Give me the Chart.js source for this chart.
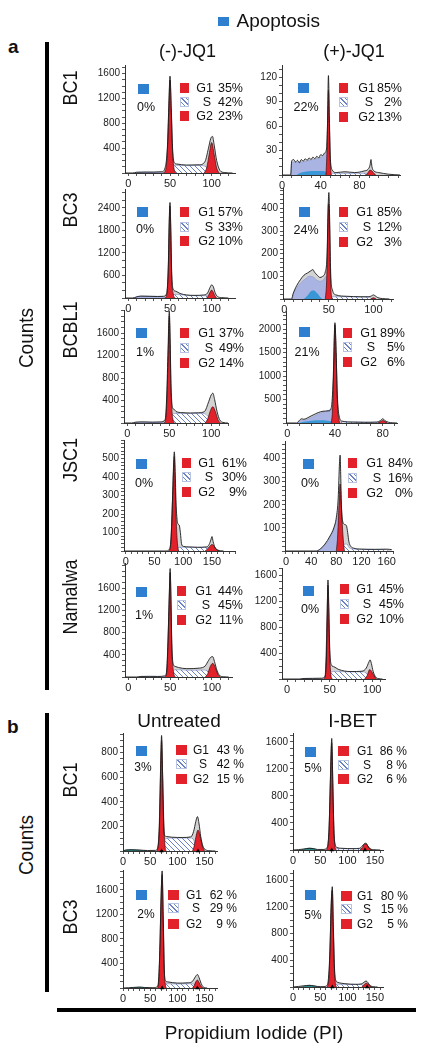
<!DOCTYPE html>
<html><head><meta charset="utf-8"><title>Cell cycle histograms</title>
<script src="https://cdn.jsdelivr.net/npm/chart.js@4.4.1/dist/chart.umd.min.js"></script>
<style>
html,body{margin:0;padding:0;background:#fff}
#root{position:relative;width:444px;height:1050px;overflow:hidden;background:#fff}
#root canvas{position:absolute}
</style></head><body><div id="root"></div>
<script>
// ---------------- DATA ----------------
// percentages per panel, order: a1n a1p a2n a2p a3n a3p a4n a4p a5n a5p b1u b1i b2u b2i
const pctApop = [0,22,0,24,1,21,0,0,1,0,3,5,2,5];
const pctG1   = [35,85,57,85,37,89,61,84,44,45,43,86,62,80];
const pctS    = [42,2,33,12,49,5,30,16,45,45,42,8,29,15];
const pctG2   = [23,13,10,3,14,6,9,0,11,10,15,6,9,5];

const rowsA = ['BC1','BC3','BCBL1','JSC1','Namalwa'];
const rowsB = ['BC1','BC3'];
const colsA = ['(-)-JQ1','(+)-JQ1'];
const colsB = ['Untreated','I-BET'];

// tick labels
const xTicks = [[0,50,100],[0,40,80],[0,50,100],[0,50,100],[0,50,100],[0,40,80],[0,50,100,150],[0,40,80,120,160],[0,50,100],[0,50,100],[0,50,100,150],[0,50,100,150],[0,50,100,150],[0,50,100,150]];
const yTicks = [[400,800,1200,1600],[30,60,90,120],[600,1200,1800,2400],[100,200,300,400],[400,800,1200,1600],[500,1000,1500,2000],[100,200,300,400,500],[100,200,300,400],[400,800,1200,1600],[400,800,1200,1600],[200,400,600,800],[400,800,1200,1600],[400,800,1200,1600],[400,800,1200,1600]];

// BC1 (-)-JQ1
const a1n_total = [[-4,0],[5,0],[10,12],[20,15],[30,14],[40,20],[44,80],[47,450],[48.5,1050],[50,1560],[51.5,1050],[53,420],[55,170],[58,145],[70,128],[85,132],[92,185],[96,390],[99,560],[101,590],[103,450],[106,200],[110,40],[115,8],[125,0]];
const a1n_g1 = [[42,0],[45,60],[47,400],[48.5,1000],[50,1500],[51.5,1000],[53,350],[55,60],[57,0]];
const a1n_g2 = [[91,0],[94,80],[97,300],[100,490],[103,300],[106,80],[109,0]];
const a1n_s = [[50,0],[53,70],[56,125],[70,118],[85,122],[92,110],[96,60],[99,0]];
const a1n_apo = [[8,0],[10,11],[25,14],[40,14],[45,0]];
// BC1 (+)-JQ1
const a1p_total = [[0,0],[9,0],[10,17],[12,19],[14,16],[16,18],[18,15],[20,19],[22,17],[24,20],[26,18],[28,21],[30,19],[32,22],[34,20],[36,23],[38,21],[40,25],[42,24],[44,27],[46,32],[47,60],[48,122],[49,70],[50,20],[52,6],[56,3],[65,4],[75,3],[85,5],[89,7],[91,12],[92,19],[93,10],[95,5],[100,3],[110,1],[122,0]];
const a1p_g1 = [[45.5,0],[46.5,30],[47.5,85],[48,104],[49,60],[50,15],[51,0]];
const a1p_g2 = [[87,0],[89,3],[91,6],[93,5],[95,2],[97,0]];
const a1p_s = [[50,0],[52,2],[88,2],[90,0]];
const a1p_apo = [[9,0],[10,15],[14,16],[20,16],[28,18],[36,20],[42,23],[46,28],[48,30],[50,0]];
const a1p_apo2 = [[15,0],[20,3],[30,5],[40,5],[45,4],[48,0]];
// BC3 (-)-JQ1
const a2n_total = [[-4,0],[5,0],[10,30],[15,50],[25,45],[35,40],[42,45],[46,120],[48,900],[49,2000],[50,2540],[51,1800],[52,700],[54,230],[57,180],[62,120],[70,80],[80,70],[90,80],[95,130],[98,280],[100,350],[102,300],[104,150],[107,40],[112,10],[120,0]];
const a2n_g1 = [[44,0],[46,80],[48,800],[49,1900],[50,2450],[51,1700],[52,600],[54,100],[56,0]];
const a2n_g2 = [[94,0],[96,60],[98,150],[100,210],[102,150],[104,50],[106,0]];
const a2n_s = [[50,0],[53,80],[58,95],[70,70],[85,60],[95,60],[98,0]];
const a2n_apo = [[8,0],[10,40],[20,50],[30,45],[40,40],[45,0]];
// BC3 (+)-JQ1
const a2p_total = [[-1.5,0],[8,0],[10,25],[14,60],[18,85],[22,105],[26,115],[30,125],[32,130],[34,118],[37,105],[40,95],[43,100],[46,120],[48,200],[49,380],[50,470],[51,330],[52,120],[54,40],[58,18],[70,12],[85,10],[95,10],[98,14],[100,18],[102,14],[105,6],[110,2],[118,0]];
const a2p_g1 = [[46,0],[47.5,80],[48.5,250],[49.5,420],[50.5,380],[51.5,150],[52.5,30],[54,0]];
const a2p_g2 = [[97,0],[100,5],[103,0]];
const a2p_s = [[50,0],[52,10],[95,8],[98,0]];
const a2p_apo = [[9,0],[10,20],[14,50],[18,70],[24,90],[28,100],[32,98],[36,85],[40,78],[44,85],[47,100],[49,0]];
const a2p_apo2 = [[22,0],[26,15],[30,35],[33,38],[37,25],[41,5],[43,0]];
// BCBL1 (-)-JQ1
const a3n_total = [[-4,0],[5,0],[10,15],[20,20],[30,15],[40,20],[45,60],[47,500],[48.5,1300],[50,1990],[51,1500],[52,700],[54,270],[56,240],[58,205],[65,185],[75,178],[85,182],[92,205],[97,380],[100,500],[102,530],[104,420],[107,200],[110,60],[114,10],[120,0]];
const a3n_g1 = [[44,0],[46,100],[47.5,600],[49,1400],[50,1900],[51,1400],[52,600],[54,100],[56,0]];
const a3n_g2 = [[93,0],[96,80],[99,220],[102,290],[105,200],[108,60],[111,0]];
const a3n_s = [[50,0],[54,160],[58,170],[75,168],[90,172],[96,120],[100,0]];
const a3n_apo = [[8,0],[10,12],[30,12],[44,10],[46,0]];
// BCBL1 (+)-JQ1
const a3p_total = [[-1,0],[8,0],[10,50],[12,90],[14,80],[17,110],[20,150],[24,200],[28,240],[32,255],[35,260],[37,330],[38.5,900],[40,2140],[41,1500],[42,600],[43.5,150],[46,40],[55,20],[65,15],[75,20],[78,50],[80,90],[82,50],[85,15],[88,5],[92,0]];
const a3p_g1 = [[37,0],[38,300],[39,1200],[40,2100],[41,1500],[42,500],[43.5,50],[44.5,0]];
const a3p_g2 = [[76,0],[78,25],[80,55],[82,30],[84,0]];
const a3p_s = [[42,0],[44,20],[75,15],[78,0]];
const a3p_apo = [[9,0],[10,40],[14,60],[18,90],[22,140],[26,190],[30,230],[34,260],[37,300],[39,0]];
const a3p_apo2 = [[10,0],[14,25],[20,50],[28,60],[34,50],[38,30],[40,0]];
// JSC1 (-)-JQ1
const a4n_total = [[-3,0],[70,0],[76,10],[79,80],[81,250],[83,450],[84.5,536],[86,430],[87.5,260],[89,180],[91,145],[93,140],[95,100],[97,40],[100,25],[110,22],[125,20],[140,22],[145,35],[148,60],[150,78],[152,50],[155,20],[160,5],[170,0]];
const a4n_g1 = [[76,0],[78,30],[80,150],[82,330],[84.5,510],[86,350],[88,150],[90,40],[92,0]];
const a4n_g2 = [[138,0],[142,10],[146,25],[150,35],[154,25],[158,8],[162,0]];
const a4n_s = [[88,0],[90,18],[100,20],[130,20],[145,18],[150,0]];
// JSC1 (+)-JQ1
const a4p_total = [[-1.5,0],[48,0],[55,10],[62,30],[70,65],[76,100],[80,145],[83,230],[85,380],[86,415],[87,330],[88,200],[90,130],[93,115],[96,110],[98,80],[100,40],[103,20],[108,12],[120,8],[140,7],[160,8],[168,6]];
const a4p_g1 = [[80,0],[82,60],[84,180],[86,290],[88,200],[90,90],[92,20],[93,0]];
const a4p_s = [[88,0],[90,25],[97,30],[100,15],[110,8],[160,6],[162,0]];
const a4p_apo = [[50,0],[58,15],[66,40],[72,70],[78,110],[82,160],[85,190],[87,0]];
// Namalwa (-)-JQ1
const a5n_total = [[-4,0],[10,0],[15,10],[25,12],[35,10],[44,20],[46,150],[47.5,700],[49,1500],[50,1950],[51,1400],[52,600],[54,220],[56,190],[60,170],[70,150],[85,160],[92,200],[96,300],[99,360],[101,365],[103,280],[106,120],[109,30],[114,5],[120,0]];
const a5n_g1 = [[44,0],[46,100],[47.5,650],[49,1450],[50,1880],[51,1350],[52,550],[54,100],[56,0]];
const a5n_g2 = [[92,0],[95,60],[98,190],[101,246],[104,170],[107,50],[110,0]];
const a5n_s = [[50,0],[53,100],[57,130],[75,120],[90,125],[96,90],[99,0]];
const a5n_apo = [[12,0],[15,8],[30,10],[40,8],[44,0]];
// Namalwa (+)-JQ1
const a5p_total = [[-6,0],[15,0],[20,8],[30,10],[40,12],[44,30],[46,250],[47,900],[48,1530],[49,1100],[50,500],[52,220],[55,190],[60,150],[75,115],[88,120],[93,170],[96,260],[97.5,295],[99,240],[101,120],[104,30],[108,5],[112,0]];
const a5p_g1 = [[43.5,0],[45,100],[46.5,700],[48,1450],[49,1000],[50,400],[51.5,60],[53,0]];
const a5p_g2 = [[91,0],[94,50],[97,145],[100,100],[103,30],[105,0]];
const a5p_s = [[49,0],[52,110],[56,115],[75,110],[90,110],[95,60],[98,0]];
const a5p_apo = [[15,0],[20,6],[35,8],[43,0]];
// b: BC1 Untreated
const b1u_total = [[0,0],[5,8],[15,10],[30,8],[45,4],[60,5],[64,30],[67,200],[69,600],[71,940],[73,600],[75,200],[77,125],[80,118],[90,112],[110,110],[125,115],[130,160],[134,240],[137,280],[140,220],[143,120],[147,40],[152,10],[160,2],[170,0]];
const b1u_g1 = [[63,0],[65,60],[67,250],[69,650],[71,900],[73,600],[75,250],[77,60],[79,0]];
const b1u_g2 = [[128,0],[131,40],[134,110],[138,170],[142,120],[146,40],[150,0]];
const b1u_s = [[74,0],[78,100],[90,105],[110,105],[125,105],[130,90],[134,0]];
const b1u_apo = [[0,0],[5,6],[15,10],[25,8],[35,4],[45,0]];
const b1u_marks = [[71,0],[138,0]];
// b: BC1 I-BET
const b1i_total = [[0,0],[10,5],[20,15],[30,25],[38,20],[45,8],[55,8],[62,30],[66,300],[68.5,1000],[71,1650],[73,1000],[75,300],[77,90],[80,40],[90,25],[110,20],[122,25],[127,60],[131,95],[134,100],[137,60],[141,20],[148,5],[160,0]];
const b1i_g1 = [[61,0],[64,60],[66.5,400],[68.5,1050],[71,1580],[73,950],[75,300],[77,50],[79,0]];
const b1i_g2 = [[123,0],[127,35],[131,85],[134,90],[138,50],[142,10],[145,0]];
const b1i_s = [[74,0],[78,20],[100,18],[125,20],[130,0]];
const b1i_apo = [[15,0],[22,15],[30,28],[38,20],[45,0]];
const b1i_marks = [[71,0],[132,0]];
// b: BC3 Untreated
const b2u_total = [[0,0],[10,5],[20,10],[30,15],[40,8],[55,5],[64,30],[67,400],[70,1400],[72,1910],[74,1200],[76,300],[78,120],[82,100],[100,80],[120,85],[128,110],[133,180],[137,220],[140,170],[144,70],[148,15],[155,0]];
const b2u_g1 = [[64,0],[66,150],[68,700],[70,1500],[72,1850],[74,1100],[76,300],[78,50],[80,0]];
const b2u_g2 = [[128,0],[131,40],[134,100],[137,130],[140,90],[144,25],[148,0]];
const b2u_s = [[74,0],[78,70],[100,65],[125,70],[132,50],[136,0]];
const b2u_apo = [[15,0],[25,8],[32,12],[40,6],[48,0]];
const b2u_marks = [[72,0],[137,0]];
// b: BC3 I-BET
const b2i_total = [[0,0],[10,8],[20,18],[30,25],[38,18],[45,8],[55,5],[63,30],[67,400],[70,1200],[72,1500],[74,900],[76,300],[78,110],[82,70],[95,50],[115,40],[125,45],[130,70],[134,90],[137,70],[141,25],[147,5],[155,0]];
const b2i_g1 = [[63,0],[66,150],[68,600],[70,1250],[72,1450],[74,850],[76,250],[78,40],[80,0]];
const b2i_g2 = [[126,0],[130,30],[134,60],[138,40],[142,10],[145,0]];
const b2i_s = [[74,0],[78,40],[100,38],[125,40],[130,0]];
const b2i_apo = [[15,0],[22,12],[30,25],[38,15],[46,0]];
const b2i_marks = [[72,0],[136,0]];

// ---------------- LAYOUT ----------------
const FONT = '"Liberation Sans", Arial, Helvetica, sans-serif';
const YW = 34, PT = 8, PR = 10, XH = 18;
const RED = '#e2212b', BLUE = '#2f7fd0';

const panels = [
 {part:'a', total:a1n_total, g1:a1n_g1, g2:a1n_g2, s:a1n_s, apo:a1n_apo,
  L:125,T:65,R:235,B:173, xr:[-4,128], ymax:1740, ym:100, bq:[138,84], ap:[146,107], rq:180, rows:[88,102,116], lr:213, pr:243},
 {part:'a', total:a1p_total, g1:a1p_g1, g2:a1p_g2, s:a1p_s, apo:a1p_apo, apo2:a1p_apo2,
  L:282,T:65,R:400,B:175, xr:[0,122], ymax:135, ym:10, bq:[298,83], ap:[306,107], rq:339, rows:[88,102,117], lr:375, pr:402},
 {part:'a', total:a2n_total, g1:a2n_g1, g2:a2n_g2, s:a2n_s, apo:a2n_apo,
  L:125,T:189,R:235,B:298, xr:[-4,128], ymax:2900, ym:200, bq:[137,207], ap:[145,229], rq:180, rows:[212,227,241], lr:215, pr:243},
 {part:'a', total:a2p_total, g1:a2p_g1, g2:a2p_g2, s:a2p_s, apo:a2p_apo, apo2:a2p_apo2,
  L:283,T:188,R:393,B:299, xr:[-1.5,122], ymax:490, ym:20, bq:[299,207], ap:[306,230], rq:339, rows:[212,227,242], lr:373, pr:402},
 {part:'a', total:a3n_total, g1:a3n_g1, g2:a3n_g2, s:a3n_s, apo:a3n_apo,
  L:124,T:310,R:228,B:423, xr:[-4,120], ymax:2010, ym:100, bq:[136,328], ap:[145,352], rq:180, rows:[333,348,363], lr:215, pr:244},
 {part:'a', total:a3p_total, g1:a3p_g1, g2:a3p_g2, s:a3p_s, apo:a3p_apo, apo2:a3p_apo2,
  L:286,T:311,R:397,B:423, xr:[-1,92], ymax:2390, ym:100, bq:[299,327], ap:[307,352], rq:343, rows:[333,347,362], lr:377, pr:405},
 {part:'a', total:a4n_total, g1:a4n_g1, g2:a4n_g2, s:a4n_s,
  L:124,T:440,R:235,B:551, xr:[-3,190], ymax:600, ym:20, bq:[136,459], ap:[144,483], rq:182, rows:[463,477,492], lr:215, pr:247},
 {part:'a', total:a4p_total, g1:a4p_g1, s:a4p_s, apo:a4p_apo,
  L:285,T:441,R:393,B:551, xr:[-1.5,170], ymax:476, ym:20, bq:[303,459], ap:[310,483], rq:348, rows:[463,478,493], lr:383, pr:413},
 {part:'a', total:a5n_total, g1:a5n_g1, g2:a5n_g2, s:a5n_s, apo:a5n_apo,
  L:125,T:563,R:232,B:677, xr:[-4,124], ymax:2050, ym:100, bq:[136,587], ap:[144,615], rq:177, rows:[591,605,620], lr:212, pr:243},
 {part:'a', total:a5p_total, g1:a5p_g1, g2:a5p_g2, s:a5p_s, apo:a5p_apo,
  L:282,T:568,R:385,B:679, xr:[-6,115], ymax:1715, ym:100, bq:[303,586], ap:[310,609], rq:340, rows:[589,604,619], lr:373, pr:404},
 {part:'b', total:b1u_total, g1:b1u_g1, g2:b1u_g2, s:b1u_s, apoT:b1u_apo, marks:b1u_marks,
  L:123,T:733,R:217,B:851, xr:[0,173], ymax:960, ym:50, bq:[136,746], ap:[143,767], rq:176, rows:[750,764,779], lr:209, pr:244},
 {part:'b', total:b1i_total, g1:b1i_g1, g2:b1i_g2, s:b1i_s, apoT:b1i_apo, marks:b1i_marks,
  L:293,T:733,R:383,B:850, xr:[0,165], ymax:1730, ym:100, bq:[305,747], ap:[313,768], rq:338, rows:[751,765,779], lr:373, pr:407},
 {part:'b', total:b2u_total, g1:b2u_g1, g2:b2u_g2, s:b2u_s, apoT:b2u_apo, marks:b2u_marks,
  L:123,T:870,R:217,B:988, xr:[0,173], ymax:1925, ym:100, bq:[136,890], ap:[146,914], rq:168, rows:[895,908,924], lr:202, pr:237},
 {part:'b', total:b2i_total, g1:b2i_g1, g2:b2i_g2, s:b2i_s, apoT:b2i_apo, marks:b2i_marks,
  L:293,T:870,R:383,B:987, xr:[0,165], ymax:1750, ym:100, bq:[305,890], ap:[313,915], rq:341, rows:[896,909,924], lr:373, pr:408}
];

const root = document.getElementById('root');

function el(css, text){
  const d = document.createElement('div');
  d.style.cssText = 'position:absolute;' + css;
  if (text != null) d.textContent = text;
  root.appendChild(d);
  return d;
}
function label(text, x, y, size, align, extra){
  extra = extra || {};
  const tx = align === 'c' ? '-50%' : (align === 'r' ? '-100%' : '0');
  return el(`left:${x}px;top:${y}px;font:${extra.bold ? 'bold ' : ''}${size}px ${FONT};line-height:1;white-space:nowrap;color:${extra.color||'#111'};transform:translate(${tx},-50%)${extra.tf ? ' ' + extra.tf : ''};`, text);
}
function baseY(baseline, size){ return baseline - 0.3465 * size; }

function hatchPattern(){
  const c = document.createElement('canvas');
  c.width = 5; c.height = 5;
  const x = c.getContext('2d');
  x.fillStyle = '#ffffff'; x.fillRect(0,0,5,5);
  x.strokeStyle = '#5b74bd'; x.lineWidth = 0.9;
  x.beginPath();
  x.moveTo(-1,-1); x.lineTo(6,6);
  x.moveTo(-1,4); x.lineTo(1,6);
  x.moveTo(4,-1); x.lineTo(6,1);
  x.stroke();
  return x.createPattern(c, 'repeat');
}
const HATCH = hatchPattern();
const HATCH_CSS = 'background:repeating-linear-gradient(45deg,#fff 0 2.2px,#6b82c4 2.2px 3.2px);border:1px solid #b8c4e2;box-sizing:border-box;';

function tickList(min, max, step){
  const out = [];
  for (let v = Math.ceil(min / step) * step; v <= max + 1e-9; v += step) out.push(Math.round(v * 1000) / 1000);
  return out;
}

function area(data, o){
  return Object.assign({data, pointRadius:0, borderWidth:0, fill:'origin', tension:0,
    cubicInterpolationMode:'monotone', spanGaps:true}, o);
}

panels.forEach((p, i) => {
  const W = YW + (p.R - p.L) + PR, H = PT + (p.B - p.T) + XH;
  const cv = document.createElement('canvas');
  cv.width = W; cv.height = H;
  cv.style.left = (p.L - YW) + 'px'; cv.style.top = (p.T - PT) + 'px';
  cv.style.width = W + 'px'; cv.style.height = H + 'px';
  root.appendChild(cv);

  const ds = [];
  ds.push(area(p.total, {backgroundColor:'#d3d3d3', order:9}));
  if (p.apo)  ds.push(area(p.apo,  {backgroundColor:'#aab4e3', borderColor:'#8d99cf', borderWidth:0.6, order:8}));
  if (p.apo2) ds.push(area(p.apo2, {backgroundColor:'#3a97d7', order:7}));
  if (p.apoT) ds.push(area(p.apoT, {backgroundColor:'#2b8c88', borderColor:'#1f6d6a', borderWidth:0.6, order:7}));
  if (p.s)    ds.push(area(p.s,    {backgroundColor:HATCH, borderColor:'#7d90c7', borderWidth:0.6, order:6}));
  if (p.g1)   ds.push(area(p.g1,   {backgroundColor:RED, borderColor:'#3b0d0d', borderWidth:0.7, order:4}));
  if (p.g2)   ds.push(area(p.g2,   {backgroundColor:RED, borderColor:'#3b0d0d', borderWidth:0.7, order:4}));
  ds.push(area(p.total, {fill:false, borderColor:'#1a1a1a', borderWidth:0.9, order:2}));
  if (p.marks) ds.push({data:p.marks, showLine:false, fill:false, pointStyle:'triangle', pointRadius:2.6,
    pointBackgroundColor:'#000', pointBorderColor:'#000', pointBorderWidth:0, clip:false, order:0});

  const xl = xTicks[i], yl = yTicks[i];
  const xAll = tickList(p.xr[0], p.xr[1], 10);
  const yAll = tickList(0, p.ymax, p.ym);
  new Chart(cv, {
    type:'line',
    data:{datasets:ds},
    options:{
      responsive:false, animation:false, devicePixelRatio:1, events:[],
      layout:{padding:{top:PT, right:PR, left:0, bottom:0}},
      plugins:{legend:{display:false}, tooltip:{enabled:false}},
      scales:{
        x:{type:'linear', min:p.xr[0], max:p.xr[1],
           afterFit:s => { s.height = XH; },
           afterBuildTicks:s => { s.ticks = xAll.map(v => ({value:v})); },
           ticks:{autoSkip:false, maxRotation:0, minRotation:0, padding:1, color:'#222',
                  font:{family:FONT, size:11}, callback:v => xl.includes(v) ? String(v) : ''},
           grid:{drawOnChartArea:false, drawTicks:true, tickLength:3, color:'#555'},
           border:{display:true, color:'#333', width:1}},
        y:{type:'linear', min:0, max:p.ymax,
           afterFit:s => { s.width = YW; },
           afterBuildTicks:s => { s.ticks = yAll.map(v => ({value:v})); },
           ticks:{autoSkip:false, padding:2, color:'#222',
                  font:{family:FONT, size:10}, callback:v => yl.includes(v) ? String(v) : ''},
           grid:{drawOnChartArea:false, drawTicks:true, tickLength:3, color:'#555'},
           border:{display:true, color:'#333', width:1}}
      }
    }
  });

  // in-panel annotation text
  const fs = p.part === 'a' ? 12.5 : 12;
  const sqW = p.part === 'a' ? 9 : 11;
  el(`left:${p.bq[0]}px;top:${p.bq[1]}px;width:11px;height:10px;background:${BLUE};`);
  label(pctApop[i] + '%', p.ap[0], p.ap[1], fs, 'c');
  const names = ['G1','S','G2'];
  const vals = [pctG1[i], pctS[i], pctG2[i]];
  names.forEach((n, k) => {
    const y = p.rows[k];
    if (n === 'S') el(`left:${p.rq}px;top:${y-5}px;width:${sqW}px;height:10px;${HATCH_CSS}`);
    else el(`left:${p.rq}px;top:${y-5}px;width:${sqW}px;height:10px;background:${RED};`);
    label(n, n === 'S' ? p.lr - 2 : p.lr, y, fs, 'r');
    label(p.part === 'a' ? vals[k] + '%' : vals[k] + ' %', p.pr, y, fs, 'r');
  });
});

// ---------------- figure furniture ----------------
el(`left:218px;top:17px;width:11px;height:9px;background:${BLUE};`);
label('Apoptosis', 236.5, baseY(27, 19), 19, 'l');
label('a', 8, baseY(53, 19), 19, 'l', {bold:true});
label('b', 7, baseY(733, 19), 19, 'l', {bold:true});
el('left:45px;top:42px;width:4px;height:648px;background:#000;');
el('left:45px;top:713px;width:4px;height:279px;background:#000;');
el('left:57px;top:1008px;width:359px;height:4px;background:#000;');

const colsAx = [187.5, 354], colsBx = [179, 352.5];
colsA.forEach((t, j) => label(t, colsAx[j], baseY(57.3, 18), 18, 'c'));
colsB.forEach((t, j) => label(t, colsBx[j], baseY(726.7, 19), 19, 'c'));

const rowsAy = [88, 210, 330, 460, 597], rowsBy = [780, 917];
rowsA.forEach((t, j) => label(t, 70, rowsAy[j], 18, 'c', {tf:'rotate(-90deg) scaleY(1.15)'}));
rowsB.forEach((t, j) => label(t, 70, rowsBy[j], 18, 'c', {tf:'rotate(-90deg) scaleY(1.15)'}));

label('Counts', 26, 338, 19, 'c', {tf:'rotate(-90deg) scaleY(1.1)'});
label('Counts', 26, 845, 19, 'c', {tf:'rotate(-90deg) scaleY(1.1)'});
label('Propidium Iodide (PI)', 254, baseY(1038.3, 19), 19, 'c');
</script></body></html>
